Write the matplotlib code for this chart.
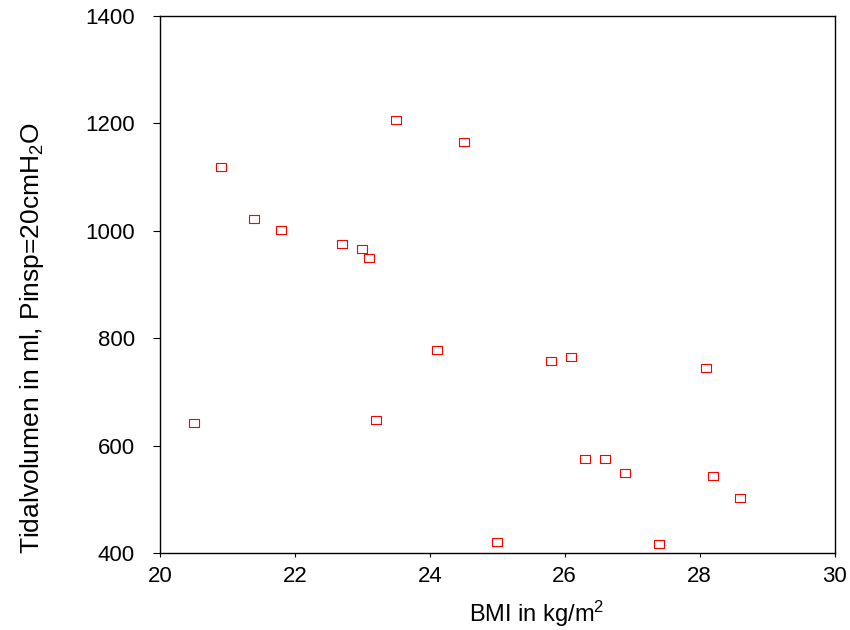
import matplotlib
matplotlib.use('Agg')
import matplotlib.pyplot as plt

plt.rcParams['font.family'] = ['Liberation Sans', 'DejaVu Sans']
plt.rcParams['mathtext.fontset'] = 'custom'
plt.rcParams['mathtext.rm'] = 'Liberation Sans'
plt.rcParams['mathtext.it'] = 'Liberation Sans'
plt.rcParams['mathtext.default'] = 'rm'

# BMI vs tidal volume
bmi = [20.5, 20.9, 21.4, 21.8, 22.7, 23.0, 23.1, 23.2, 23.5, 24.1, 24.5,
       25.0, 25.8, 26.1, 26.3, 26.6, 26.9, 27.4, 28.1, 28.2, 28.6]
vt = [642, 1119, 1022, 1001, 975, 966, 949, 648, 1206, 778, 1165,
      420, 758, 765, 575, 575, 549, 417, 745, 543, 502]

xticks = [20, 22, 24, 26, 28, 30]
yticks = [400, 600, 800, 1000, 1200, 1400]

# wide, flat rectangle marker
rect = [(-1.4, -1), (1.4, -1), (1.4, 1), (-1.4, 1), (-1.4, -1)]

fig = plt.figure(figsize=(8.5, 6.3), dpi=100)
ax = fig.add_axes([0.188, 0.1222, 0.794, 0.8524])

ax.plot(bmi, vt, linestyle='none', marker=rect, markersize=7.5,
        markerfacecolor='none', markeredgecolor='red', markeredgewidth=0.8)

ax.set_xlim(20, 30)
ax.set_ylim(400, 1400)
ax.set_xticks(xticks)
ax.set_yticks(yticks)
ax.tick_params(axis='y', direction='out', length=5, width=0.8, pad=13, labelsize=16)
ax.tick_params(axis='x', direction='out', length=3, width=0.8, pad=6, labelsize=16)
for s in ax.spines.values():
    s.set_linewidth(1.0)

ax.set_xlabel('BMI in kg/m$^2$', fontsize=17)
ax.set_ylabel('Tidalvolumen in ml, Pinsp=20cmH$_2$O', fontsize=19)
ax.xaxis.set_label_coords(0.558, -0.085)
ax.yaxis.set_label_coords(-0.168, 0.40)

fig.savefig('out.png', dpi=100)
